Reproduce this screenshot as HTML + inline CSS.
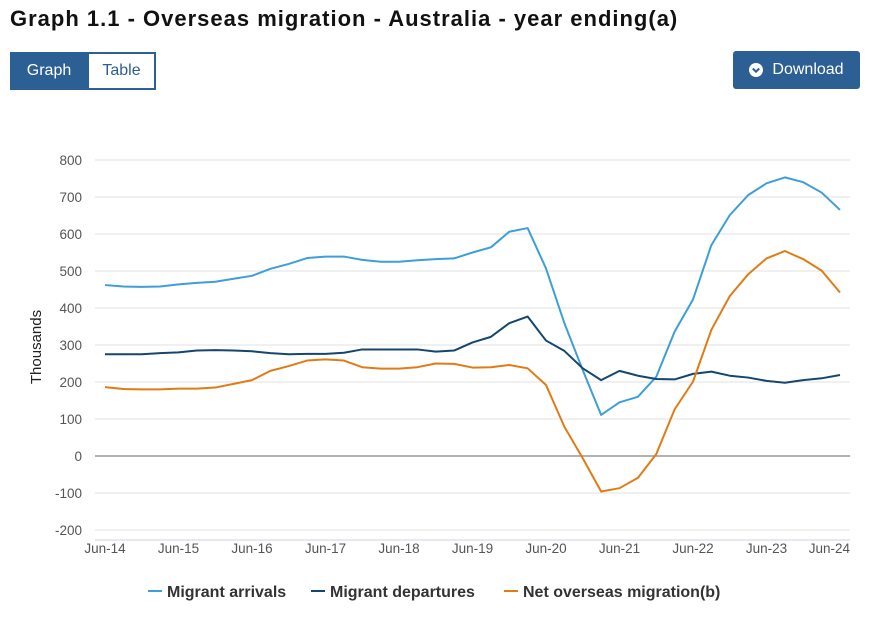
<!DOCTYPE html>
<html><head><meta charset="utf-8">
<style>
body{margin:0;width:873px;height:626px;background:#fff;font-family:"Liberation Sans",sans-serif;overflow:hidden;position:relative}
h1{position:absolute;left:10px;top:6px;margin:0;font-size:22px;font-weight:bold;color:#111;letter-spacing:1px}
.btn{position:absolute;box-sizing:border-box;font-size:16px;display:flex;align-items:center;justify-content:center}
</style></head><body>
<h1>Graph 1.1 - Overseas migration - Australia - year ending(a)</h1>
<div class="btn" style="left:10px;top:52px;width:78px;height:38px;background:#2c5f94;color:#fff;border:2px solid #2c5f94">Graph</div>
<div class="btn" style="left:87px;top:52px;width:69px;height:38px;background:#fff;color:#2c5f94;border:2px solid #2c5f94">Table</div>
<div class="btn" style="left:733px;top:51px;width:127px;height:38px;background:#2c5f94;color:#fff;border-radius:3px">
<svg width="14" height="14" viewBox="0 0 14 14" style="margin-right:9px"><circle cx="7" cy="7" r="7" fill="#fff"/><path d="M3.8 5.5 L7 8.7 L10.2 5.5" stroke="#2c5f94" stroke-width="2" fill="none"/></svg>Download</div>
<svg id="chart" width="873" height="626" style="position:absolute;left:0;top:0;pointer-events:none" font-family="Liberation Sans, sans-serif"></svg>
<script>
const categories=[];
const qNames=["Jun","Sep","Dec","Mar"];
for(let i=0;i<41;i++){const m=qNames[i%4];const y=14+Math.floor((i+2)/4);categories.push(m+"-"+y);}
const arrivals=[462,458,457,458,464,468,471,479,487,506,519,535,539,539,530,525,525,529,532,534,550,564,606,616,507,359,232,111,145,160,214,336,423,570,651,705,737,753,740,712,665];
const departures=[275,275,275,278,280,285,286,285,283,278,275,276,276,279,288,288,288,288,282,285,307,322,359,377,312,284,237,205,230,217,208,207,222,228,217,212,203,198,205,210,219];
const netMigration=[186,181,180,180,182,182,185,195,205,230,243,258,261,258,240,236,236,240,250,249,239,240,246,237,192,79,-6,-96,-87,-59,5,126,201,341,432,491,534,554,532,501,442];
const yTicks=[800,700,600,500,400,300,200,100,0,-100,-200];
const xTickLabels=["Jun-14","Jun-15","Jun-16","Jun-17","Jun-18","Jun-19","Jun-20","Jun-21","Jun-22","Jun-23","Jun-24"];
const xTickIndex=[0,4,8,12,16,20,24,28,32,36,40];
const svg=document.getElementById('chart');const NS="http://www.w3.org/2000/svg";
const X0=105,X1=840,Y0=456,PER=0.37;
const xs=i=>X0+(X1-X0)*i/(categories.length-1);
const ys=v=>Y0-v*PER;
function mk(t,a){const e=document.createElementNS(NS,t);for(const k in a)e.setAttribute(k,a[k]);svg.appendChild(e);return e;}
yTicks.forEach(v=>{
 const l=mk('line',{x1:95,x2:850,y1:ys(v),y2:ys(v),stroke:v===0?'#999':'#e0e0e0','stroke-width':v===0?1.5:1});
 
 
 const t=mk('text',{x:82,y:ys(v)+5,'text-anchor':'end','font-size':13.5,fill:'#555'});t.textContent=v;
 
 
});
const ax=mk('line',{x1:95,x2:850,y1:540,y2:540,stroke:'#ccd3dc','stroke-width':1});


xTickLabels.forEach((s,k)=>{
 const last=k===xTickLabels.length-1;
 const t=mk('text',{x:last?850:xs(xTickIndex[k]),y:553,'text-anchor':last?'end':'middle','font-size':13.5,fill:'#555'});t.textContent=s;
 
 
});
const yt=mk('text',{x:0,y:0,transform:'translate(41,347) rotate(-90)','text-anchor':'middle','font-size':15,fill:'#222'});yt.textContent='Thousands';


const series=[[arrivals,'#3d9fd8','arrivals-line'],[departures,'#14466f','departures-line'],[netMigration,'#e07c14','net-migration-line']];
series.forEach(([d,c,n])=>{
 const p=mk('polyline',{points:d.map((v,i)=>xs(i)+','+ys(v)).join(' '),fill:'none',stroke:c,'stroke-width':2,'stroke-linejoin':'round'});
 
 
});
const legend=[['Migrant arrivals','#3d9fd8',148],['Migrant departures','#14466f',311],['Net overseas migration(b)','#e07c14',504]];
legend.forEach(([s,c,x])=>{
 const l=mk('line',{x1:x,x2:x+14,y1:591,y2:591,stroke:c,'stroke-width':2});
 
 
 const t=mk('text',{x:x+19,y:597,'font-size':16,'font-weight':'bold',fill:'#333'});t.textContent=s;
 
 
});
</script>
</body></html>
